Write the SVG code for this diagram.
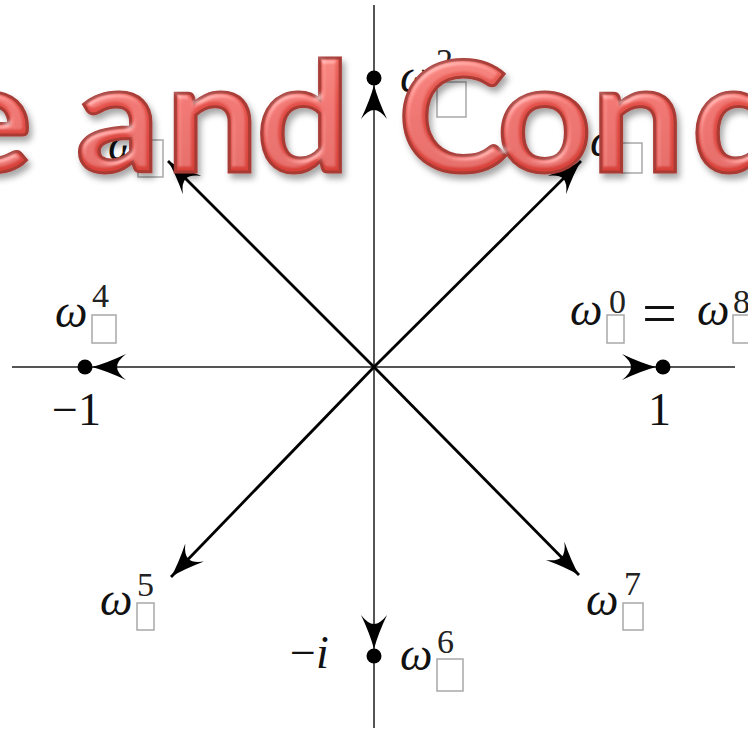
<svg xmlns="http://www.w3.org/2000/svg" width="748" height="730" viewBox="0 0 748 730">
<style>
.axis{stroke:#555;stroke-width:2;fill:none}
.vec{stroke:#000;stroke-width:2.8;fill:none;marker-end:url(#ah)}
.avec{stroke:#555;stroke-width:2;fill:none;marker-end:url(#ah)}
.dot{fill:#000}
.w{font-family:"Liberation Serif",serif;font-style:italic;font-size:46px;fill:#111}
.sup{font-family:"Liberation Serif",serif;font-size:34px;fill:#222}
.num{font-family:"Liberation Serif",serif;font-size:46px;fill:#111}
.tofu{fill:#fff;stroke:#a8a8a8;stroke-width:1.5}
.title{font-family:Lato,"Open Sans",sans-serif;font-weight:700;font-size:154px;fill:url(#rg);stroke:#a93a34;stroke-width:3;filter:url(#bev)}
</style>
<defs>
<marker id="ah" markerUnits="userSpaceOnUse" viewBox="-36 -14 38 28" refX="0" refY="0" markerWidth="38" markerHeight="28" orient="auto">
<path d="M0,0 Q-15,-4 -34,-13 Q-25,-6 -25,0 Q-25,6 -34,13 Q-15,4 0,0 Z" fill="#000"/>
</marker>
<linearGradient id="rg" x1="0" y1="0" x2="0" y2="1">
<stop offset="0" stop-color="#f07a70"/>
<stop offset="0.45" stop-color="#e4514a"/>
<stop offset="1" stop-color="#d23a31"/>
</linearGradient>
<filter id="bev" x="-10%" y="-20%" width="120%" height="150%">
<feGaussianBlur in="SourceAlpha" stdDeviation="3" result="b"/>
<feSpecularLighting in="b" surfaceScale="4" specularConstant="0.7" specularExponent="22" lighting-color="#ffffff" result="s">
<fePointLight x="-4000" y="-8000" z="12000"/>
</feSpecularLighting>
<feComposite in="s" in2="SourceAlpha" operator="in" result="so"/>
<feComposite in="SourceGraphic" in2="so" operator="arithmetic" k1="0" k2="1" k3="0.5" k4="0" result="lit"/>
<feGaussianBlur in="SourceAlpha" stdDeviation="3" result="sb"/>
<feOffset in="sb" dx="3" dy="5" result="sbo"/>
<feFlood flood-color="#000" flood-opacity="0.35"/>
<feComposite in2="sbo" operator="in" result="sh"/>
<feMerge><feMergeNode in="sh"/><feMergeNode in="lit"/></feMerge>
</filter>
</defs>
<rect width="748" height="730" fill="#fff"/>
<g id="axes">
<line class="axis" x1="12" y1="367" x2="735" y2="367"/>
<line class="axis" x1="374" y1="5" x2="374" y2="728"/>
</g>
<g id="connectors">
<line class="avec" x1="374" y1="367" x2="656" y2="367"/>
<line class="avec" x1="374" y1="367" x2="92" y2="367"/>
<line class="avec" x1="374" y1="367" x2="374" y2="85"/>
<line class="avec" x1="374" y1="367" x2="374" y2="649"/>
<line class="vec" x1="374" y1="367" x2="581" y2="161"/>
<line class="vec" x1="374" y1="367" x2="168" y2="161"/>
<line class="vec" x1="374" y1="367" x2="171" y2="577"/>
<line class="vec" x1="374" y1="367" x2="579" y2="575"/>
</g>
<g id="node-w0">
<circle class="dot" cx="663" cy="367" r="7.5"/>
<text class="w" x="570" y="325">ω</text><text class="sup" x="609" y="313">0</text><rect class="tofu" x="607" y="315" width="17" height="28"/>
<text class="num" x="642" y="334" style="font-size:62px">=</text>
<text class="w" x="697" y="325">ω</text><text class="sup" x="733" y="313">8</text><rect class="tofu" x="733" y="315" width="17" height="28"/>
<text class="num" x="648" y="425">1</text>
</g>
<g id="node-w1">
<text class="w" x="590" y="156">ω</text><rect class="tofu" x="622" y="143" width="20" height="30"/>
</g>
<g id="node-w2">
<circle class="dot" cx="374" cy="78" r="7.5"/>
<text class="w" x="400" y="92">ω</text><text class="sup" x="436" y="72">2</text><rect class="tofu" x="437" y="82" width="29" height="35"/>
</g>
<g id="node-w3">
<text class="w" x="108" y="160">ω</text><rect class="tofu" x="138" y="140" width="25" height="37"/>
</g>
<g id="node-w4">
<circle class="dot" cx="85" cy="367" r="7.5"/>
<text class="w" x="55" y="327">ω</text><text class="sup" x="92" y="307">4</text><rect class="tofu" x="92" y="315" width="24" height="28"/>
<text class="num" x="52" y="425">−1</text>
</g>
<g id="node-w5">
<text class="w" x="100" y="615">ω</text><text class="sup" x="137" y="596">5</text><rect class="tofu" x="137" y="603" width="17" height="27"/>
</g>
<g id="node-w6">
<circle class="dot" cx="374" cy="656" r="7.5"/>
<text class="num" x="290" y="668">−<tspan style="font-style:italic">i</tspan></text>
<text class="w" x="400" y="670">ω</text><text class="sup" x="437" y="653">6</text><rect class="tofu" x="437" y="659" width="26" height="32"/>
</g>
<g id="node-w7">
<text class="w" x="586" y="615">ω</text><text class="sup" x="624" y="595">7</text><rect class="tofu" x="623" y="603" width="20" height="27"/>
</g>
<g id="title" transform="scale(1.08,1)">
<text class="title" x="-52 70 153 237 368 460 547 640" y="172">eandCond</text>
</g>
</svg>
